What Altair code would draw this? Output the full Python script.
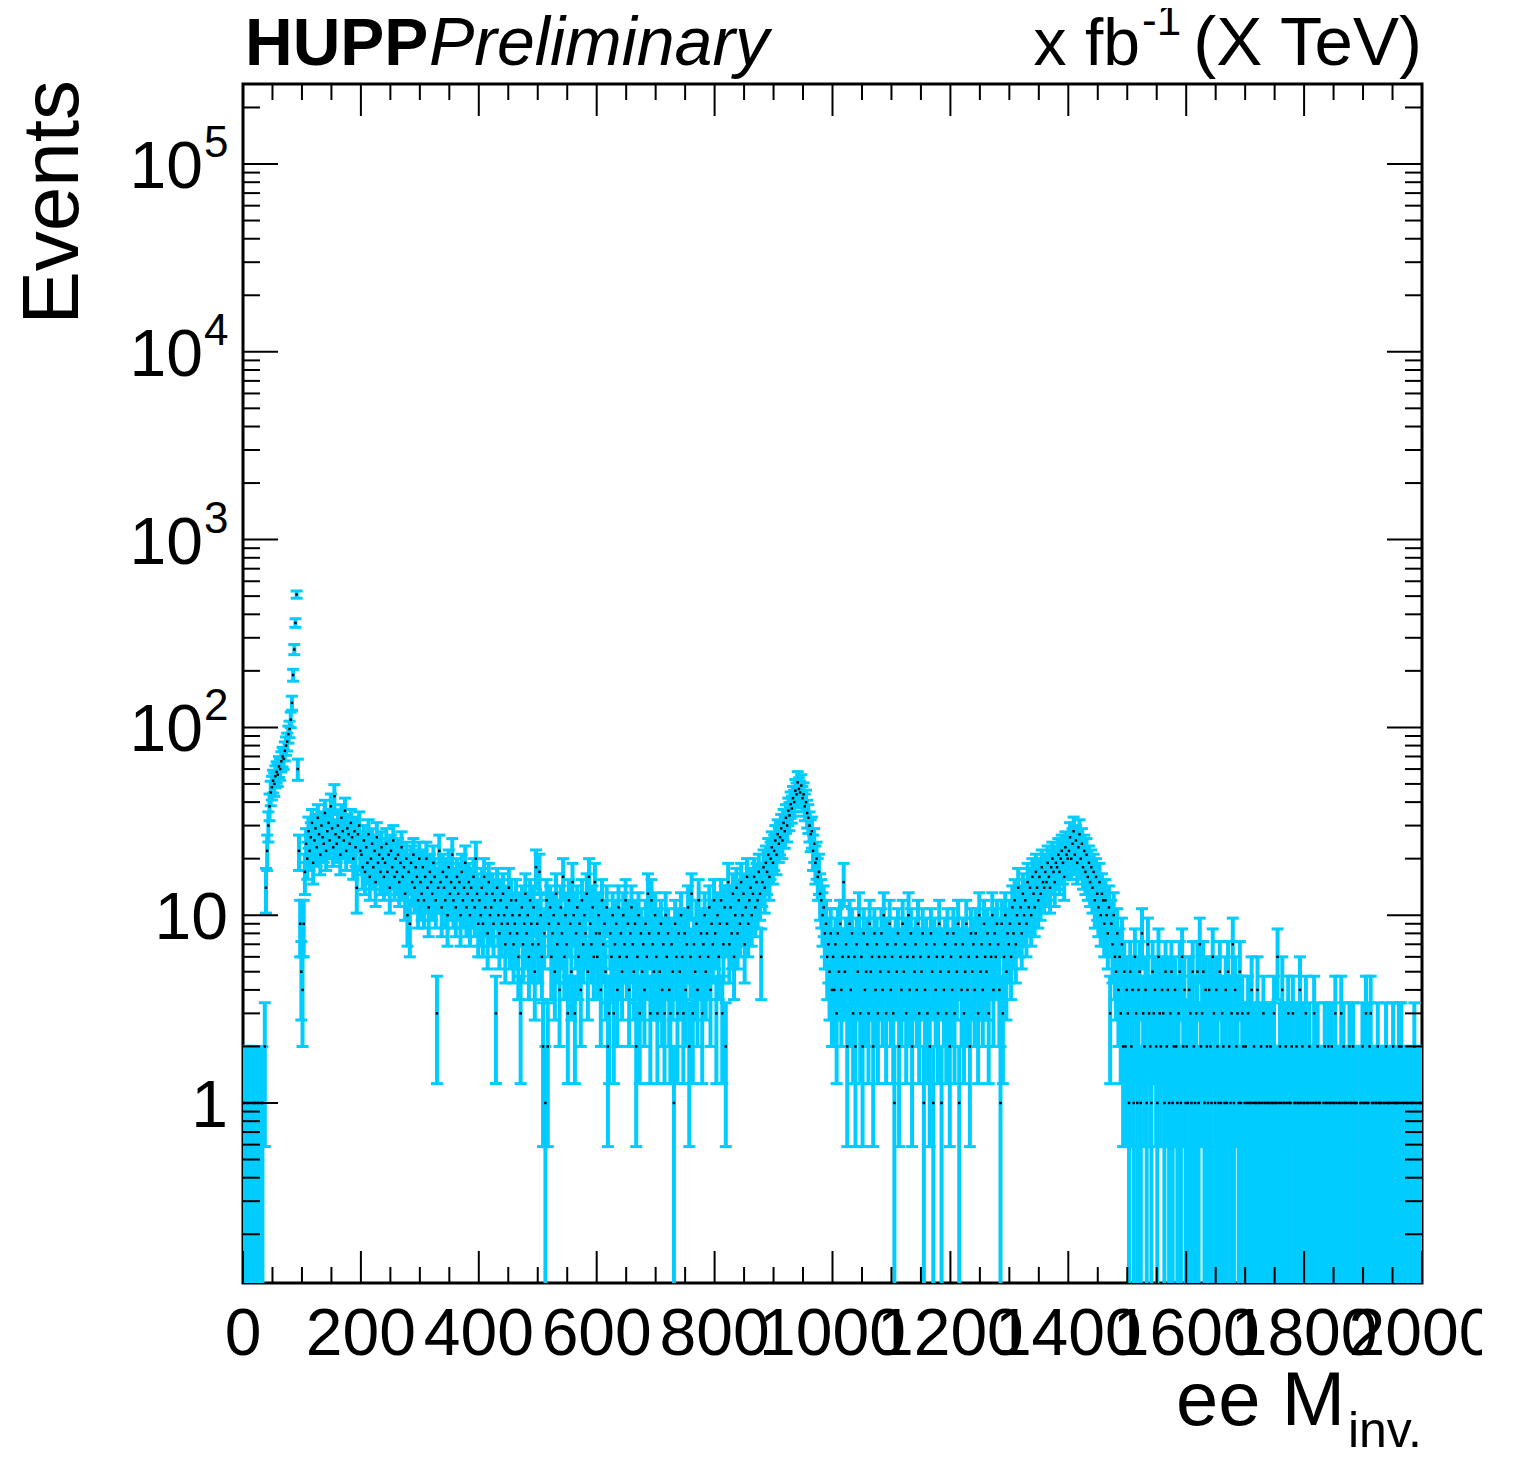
import math
import altair as alt
import pandas as pd

# ---------------- data: counts per 2 GeV bin, 0 .. 2000 ----------------
m0_200 = [1, 1, 0, 1, 1, 0, 1, 0, 1, 1,
          1, 0, 1, 1, 0, 1, 1, 0, 2, 14,
          22, 30, 38, 45, 48, 52, 50, 55, 58, 56,
          62, 60, 66, 70, 68, 75, 80, 84, 92, 98,
          110, 135, 190, 260, 360, 510, 60, 22, 9, 5,
          4, 9, 17, 24, 20, 28, 22, 26, 31, 19,
          25, 29, 23, 33, 27, 21, 30, 26, 24, 35,
          22, 28, 31, 25, 38, 29, 23, 43, 27, 24,
          30, 26, 21, 33, 28, 25, 36, 22, 29, 27,
          24, 31, 26, 20, 28, 23, 14, 27, 30, 22]
m200_400 = [21, 18, 25, 17, 23, 19, 27, 16, 20, 24,
            18, 22, 15, 26, 19, 21, 17, 23, 20, 16,
            19, 24, 17, 21, 14, 22, 18, 25, 16, 20,
            17, 21, 15, 19, 23, 16, 18, 13, 20, 10,
            17, 9, 19, 15, 21, 14, 18, 16, 12, 20,
            15, 13, 18, 12, 16, 20, 14, 11, 17, 15,
            13, 19, 16, 12, 3, 14, 22, 15, 11, 17,
            14, 12, 16, 10, 18, 13, 15, 21, 12, 14,
            11, 16, 13, 15, 10, 17, 12, 14, 19, 11,
            13, 15, 10, 14, 12, 16, 11, 20, 13, 9]
m400_600 = [12, 10, 14, 9, 16, 11, 13, 8, 15, 10,
            11, 13, 9, 12, 3, 14, 10, 8, 12, 9,
            13, 10, 7, 11, 9, 14, 8, 12, 10, 7,
            9, 12, 8, 6, 10, 3, 11, 7, 9, 13,
            8, 10, 6, 12, 9, 7, 11, 5, 18, 9,
            7, 17, 10, 6, 2, 8, 1, 12, 2, 9,
            11, 6, 8, 10, 5, 13, 7, 9, 4, 11,
            8, 16, 6, 10, 7, 3, 12, 9, 5, 15,
            10, 3, 8, 11, 6, 9, 4, 12, 7, 10,
            8, 13, 5, 16, 9, 7, 11, 6, 15, 8]
m600_800 = [6, 10, 8, 4, 12, 7, 9, 5, 11, 2,
            3, 8, 6, 10, 3, 7, 9, 4, 11, 6,
            8, 5, 10, 7, 12, 6, 9, 4, 8, 11,
            7, 5, 9, 2, 6, 10, 3, 8, 5, 7,
            4, 9, 6, 13, 8, 3, 12, 7, 5, 10,
            6, 3, 8, 5, 9, 4, 7, 3, 10, 6,
            8, 4, 3, 7, 5, 1, 9, 6, 3, 8,
            5, 10, 6, 3, 8, 4, 7, 11, 2, 6,
            13, 3, 7, 5, 9, 4, 12, 6, 8, 3,
            7, 10, 5, 8, 6, 11, 4, 9, 7, 12]
m800_1000 = [8, 3, 10, 6, 9, 12, 3, 7, 11, 2,
             9, 15, 7, 11, 8, 13, 6, 10, 14, 8,
             12, 9, 15, 10, 13, 7, 11, 16, 9, 12,
             14, 10, 13, 16, 11, 15, 12, 17, 13, 6,
             15, 18, 14, 19, 17, 21, 16, 20, 23, 19,
             22, 25, 21, 27, 24, 26, 29, 25, 31, 28,
             33, 30, 36, 34, 39, 37, 42, 40, 46, 44,
             51, 47, 45, 49, 42, 44, 38, 40, 35, 33,
             30, 27, 28, 22, 24, 19, 20, 16, 17, 13,
             12, 10, 11, 8, 9, 6, 7, 5, 8, 4]
m1000_1200 = [6, 4, 7, 3, 8, 5, 9, 4, 6, 15,
              5, 7, 2, 6, 9, 4, 8, 3, 6, 2,
              7, 5, 10, 3, 6, 2, 8, 4, 5, 7,
              3, 9, 5, 6, 2, 8, 4, 7, 3, 6,
              5, 8, 4, 10, 6, 3, 7, 5, 9, 4,
              6, 3, 1, 7, 5, 8, 2, 6, 4, 9,
              5, 7, 3, 6, 10, 4, 8, 2, 6, 5,
              7, 4, 9, 3, 6, 5, 8, 1, 4, 7,
              3, 6, 2, 8, 5, 1, 7, 4, 6, 3,
              9, 5, 1, 6, 4, 7, 3, 8, 5, 2]
m1200_1400 = [6, 4, 8, 3, 7, 5, 9, 1, 6, 4,
              7, 3, 5, 9, 4, 6, 2, 8, 5, 7,
              4, 8, 6, 3, 10, 5, 7, 4, 9, 6,
              5, 8, 3, 7, 6, 10, 4, 8, 6, 9,
              7, 4, 1, 9, 3, 6, 10, 5, 8, 7,
              9, 6, 11, 8, 12, 7, 10, 14, 9, 11,
              8, 13, 10, 12, 9, 15, 11, 14, 10, 16,
              13, 11, 17, 14, 12, 16, 13, 18, 15, 14,
              17, 15, 19, 16, 14, 18, 20, 17, 15, 19,
              18, 21, 17, 20, 22, 19, 16, 23, 21, 20]
m1400_1600 = [22, 26, 20, 24, 28, 21, 25, 19, 23, 27,
              20, 24, 18, 22, 17, 21, 16, 19, 15, 18,
              14, 17, 12, 16, 13, 11, 15, 10, 13, 12,
              9, 12, 10, 8, 11, 3, 9, 7, 10, 6,
              5, 8, 4, 6, 3, 7, 2, 5, 2, 4,
              3, 1, 5, 2, 4, 1, 6, 3, 1, 4,
              5, 1, 8, 3, 2, 4, 1, 7, 3, 2,
              1, 5, 3, 4, 2, 1, 6, 3, 2, 4,
              3, 1, 5, 2, 4, 1, 3, 5, 1, 2,
              4, 2, 1, 3, 5, 1, 6, 2, 4, 1]
m1600_1800 = [2, 1, 4, 3, 1, 5, 2, 1, 3, 5,
              1, 7, 2, 3, 5, 1, 4, 2, 1, 4,
              2, 1, 6, 3, 1, 4, 2, 1, 5, 1,
              3, 2, 1, 4, 1, 5, 2, 1, 3, 7,
              1, 4, 2, 3, 1, 5, 1, 3, 2, 1,
              2, 1, 3, 1, 1, 4, 1, 2, 1, 1,
              4, 1, 1, 2, 1, 3, 1, 1, 2, 1,
              1, 2, 1, 1, 3, 1, 1, 6, 1, 2,
              1, 4, 1, 1, 2, 1, 3, 1, 1, 2,
              3, 1, 1, 2, 1, 1, 4, 1, 2, 1]
m1800_2000 = [1, 3, 1, 1, 2, 1, 0, 1, 3, 1,
              1, 2, 1, 1, 0, 0, 1, 2, 1, 1,
              2, 1, 1, 2, 1, 1, 3, 1, 0, 1,
              1, 3, 1, 2, 1, 1, 0, 1, 2, 1,
              1, 2, 1, 1, 1, 0, 0, 1, 1, 2,
              1, 1, 3, 1, 1, 2, 3, 1, 1, 0,
              1, 1, 2, 1, 1, 1, 0, 1, 1, 2,
              1, 1, 1, 0, 1, 2, 1, 1, 1, 1,
              2, 1, 2, 1, 1, 0, 1, 1, 1, 0,
              1, 1, 1, 2, 1, 1, 0, 1, 1, 1]

x_tick_labels = [0, 200, 400, 600, 800, 1000, 1200, 1400, 1600, 1800, 2000]
y_label_values = [1, 10, 100, 1000, 10000, 100000]
y_label_exps = ["", "", "2", "3", "4", "5"]

counts = (m0_200 + m200_400 + m400_600 + m600_800 + m800_1000 +
          m1000_1200 + m1200_1400 + m1400_1600 + m1600_1800 + m1800_2000)

# ---------------- layout / style ----------------
W, H = 1179, 1199
X_MIN, X_MAX = 0, 2000
Y_MIN, Y_MAX = 0.11, 266700
BIN_W = (X_MAX - X_MIN) / len(counts)
CYAN = "#00ccff"
FONT = "Liberation Sans"

rows = []
for i, n in enumerate(counts):
    if n <= 0:
        continue
    e = math.sqrt(n)
    lo = n - e
    rows.append({"m": X_MIN + (i + 0.5) * BIN_W, "n": n, "hi": n + e,
                 "lo": lo if lo > 0 else 1e-3, "has_lo": lo > Y_MIN})
df = pd.DataFrame(rows)

xs = alt.Scale(domain=[X_MIN, X_MAX], nice=False, zero=False)
ys = alt.Scale(type="log", domain=[Y_MIN, Y_MAX], nice=False)

base = alt.Chart(df)
bars = base.mark_rule(color=CYAN, strokeWidth=4, clip=True).encode(
    x=alt.X("m:Q", scale=xs, axis=None),
    y=alt.Y("lo:Q", scale=ys, axis=None),
    y2="hi:Q")
caps_hi = base.mark_tick(orient="horizontal", size=12, thickness=3, color=CYAN,
                         clip=True, opacity=1).encode(
    x=alt.X("m:Q", scale=xs, axis=None), y=alt.Y("hi:Q", scale=ys, axis=None))
caps_lo = base.transform_filter("datum.has_lo").mark_tick(
    orient="horizontal", size=12, thickness=3, color=CYAN, clip=True, opacity=1).encode(
    x=alt.X("m:Q", scale=xs, axis=None), y=alt.Y("lo:Q", scale=ys, axis=None))
dots = base.mark_square(size=6, color="black", opacity=1, clip=True).encode(
    x=alt.X("m:Q", scale=xs, axis=None), y=alt.Y("n:Q", scale=ys, axis=None))

# ---------------- inward ticks ----------------
x_major = list(range(X_MIN, X_MAX + 1, 200))
x_minor = [v for v in range(X_MIN, X_MAX + 1, 50) if v % 200 != 0]
y_major = [10.0 ** k for k in range(-1, 6) if Y_MIN <= 10.0 ** k <= Y_MAX]
y_minor = [d * 10.0 ** k for k in range(-1, 6) for d in range(2, 10)
           if Y_MIN <= d * 10.0 ** k <= Y_MAX]

def xticks(vals, length):
    d = alt.Chart(pd.DataFrame({"t": vals}))
    enc = dict(x=alt.X("t:Q", scale=xs, axis=None))
    bot = d.mark_rule(color="black", strokeWidth=2).encode(
        y=alt.value(H), y2=alt.value(H - length), **enc)
    top = d.mark_rule(color="black", strokeWidth=2).encode(
        y=alt.value(0), y2=alt.value(length), **enc)
    return [bot, top]

def yticks(vals, length):
    d = alt.Chart(pd.DataFrame({"t": vals}))
    enc = dict(y=alt.Y("t:Q", scale=ys, axis=None))
    left = d.mark_rule(color="black", strokeWidth=2).encode(
        x=alt.value(0), x2=alt.value(length), **enc)
    right = d.mark_rule(color="black", strokeWidth=2).encode(
        x=alt.value(W), x2=alt.value(W - length), **enc)
    return [left, right]

ticks = xticks(x_major, 32) + xticks(x_minor, 16) + yticks(y_major, 35) + yticks(y_minor, 17)

# ---------------- x labels ----------------
xlab = alt.Chart(pd.DataFrame({"t": x_tick_labels})).mark_text(
    align="center", baseline="alphabetic", fontSize=66, font=FONT, color="black").encode(
    x=alt.X("t:Q", scale=xs, axis=None), y=alt.value(H + 72), text="t:N")

# ---------------- y labels (10^n style) ----------------
ylab = pd.DataFrame({"v": y_label_values, "e": y_label_exps})
ylab["b"] = ["1" if v == 1 else "10" for v in y_label_values]
plain = alt.Chart(ylab).transform_filter("datum.e == ''").mark_text(
    align="right", baseline="middle", fontSize=66, font=FONT, color="black", dy=4).encode(
    x=alt.value(-15), y=alt.Y("v:Q", scale=ys, axis=None), text="b:N")
pw_base = alt.Chart(ylab).transform_filter("datum.e != ''").mark_text(
    align="right", baseline="middle", fontSize=66, font=FONT, color="black", dy=4).encode(
    x=alt.value(-40), y=alt.Y("v:Q", scale=ys, axis=None), text="b:N")
pw_exp = alt.Chart(ylab).transform_filter("datum.e != ''").mark_text(
    align="left", baseline="middle", fontSize=44, font=FONT, color="black", dy=-20).encode(
    x=alt.value(-39), y=alt.Y("v:Q", scale=ys, axis=None), text="e:N")

# ---------------- titles / header ----------------
def label(txt, x, y, size, align="left", weight="normal", style="normal", angle=0):
    return alt.Chart(pd.DataFrame({"t": [txt]})).mark_text(
        align=align, baseline="alphabetic", fontSize=size, font=FONT, color="black",
        fontWeight=weight, fontStyle=style, angle=angle).encode(
        x=alt.value(x), y=alt.value(y), text="t:N")

texts = [
    label("Events", -165, -4, 80, align="right", angle=270),
    label("ee M", 1102, 1341, 76, align="right"),
    label("inv.", 1179, 1363, 50, align="right"),
    label("HUPP", 2, -19, 66, weight="bold"),
    label("Preliminary", 186, -19, 68, style="italic"),
    label("(X TeV)", 1179, -19, 69, align="right"),
    label("-1", 899, -49, 44),
    label("x fb", 897, -19, 66, align="right"),
]

chart = alt.layer(bars, caps_hi, caps_lo, dots, *ticks, xlab, plain, pw_base, pw_exp, *texts).properties(
    width=W, height=H,
    autosize=alt.AutoSizeParams(type="none"),
    padding={"left": 235, "top": 76, "right": 60, "bottom": 166},
    background="white",
).configure_view(stroke="black", strokeWidth=3)

chart.save("out.html", embed_options={"renderer": "svg", "actions": False})
